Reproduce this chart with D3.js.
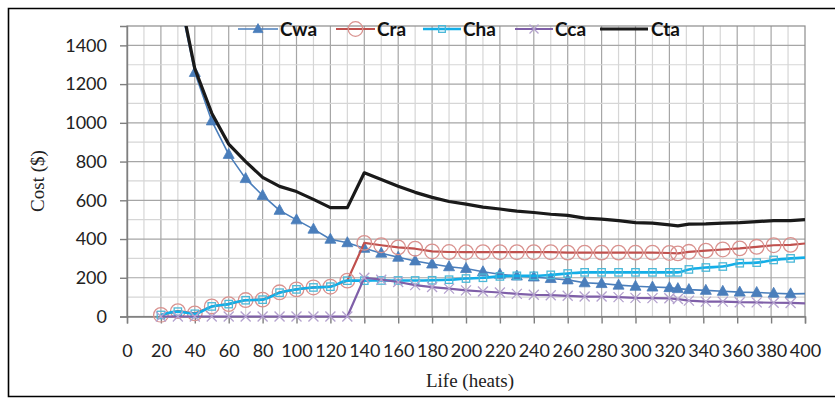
<!DOCTYPE html>
<html><head><meta charset="utf-8">
<script src="https://cdn.jsdelivr.net/npm/d3@7/dist/d3.min.js"></script>
<style>
html,body{margin:0;padding:0;background:#fff;}
svg{display:block;}
</style>
</head><body>
<svg id="chart" width="835" height="399"></svg>
<script>
// ---- data ----
const lifeHeats = [20,30,40,50,60,70,80,90,100,110,120,130,140,150,160,170,180,190,200,210,220,230,240,250,260,270,280,290,300,310,320,325,331.5,341.5,351.5,361.5,371.5,381.5,391.5,400];
const cwa = [2520,1680,1260,1010,837,712,625,548,499,451,399,381,352,327,306,287,271,257,248,231,218,209,204,196,189,174,170,162,156,152,149,144,139,135,130,126,124,120,117,118];
const cra = [8,28,16,52,64,85,87,125,140,150,154,185,380,368,357,350,336,333,332,332,332,332,332,332,330,330,330,330,330,330,328,326,334,340,346,352,360,368,370,377];
const cha = [8,25,14,52,64,84,87,123,140,150,154,185,185,186,186,186,187,190,196,200,207,210,210,215,222,228,228,228,228,228,228,228,243,253,258,275,278,292,300,304];
const cca = [0,0,0,0,0,0,0,0,0,0,0,0,200,190,178,162,152,144,135,129,124,117,112,110,107,103,103,100,96,95,94,90,82,77,77,74,73,71,70,68];
const cta = [2530,1710,1280,1050,890,800,718,672,645,605,562,562,742,707,672,641,615,594,580,565,555,544,537,528,522,508,503,495,485,482,473,468,477,478,482,485,490,495,495,500];
const seriesNames = ["Cwa","Cra","Cha","Cca","Cta"];
const xTicks = d3.range(0, 401, 20);
const yTicks = d3.range(0, 1401, 200);

const series = [
  {name:"Cwa", values:cwa, color:"#4A7EBB", width:1.6, marker:"triangle", mColor:"#4A7EBB"},
  {name:"Cra", values:cra, color:"#C0504D", width:2.2, marker:"circle",   mColor:"#D9928F"},
  {name:"Cha", values:cha, color:"#12AEE8", width:2.6, marker:"square",   mColor:"#4BB8D8"},
  {name:"Cca", values:cca, color:"#7F5FA8", width:2.2, marker:"x",        mColor:"#B4A2CE"},
  {name:"Cta", values:cta, color:"#1A1A1A", width:3.2, marker:null}
];

const svg = d3.select("#chart");
const L = 127, R = 805, T = 26, B = 316.5;
const x = d3.scaleLinear().domain([0, 400]).range([L, R]);
const y = d3.scaleLinear().domain([0, 1500]).range([B, T]);

// outer frame
svg.append("path").attr("d", "M835,8.5 H8.5 V396.5 H835")
  .attr("fill","none").attr("stroke","#000").attr("stroke-width",1.6);

// gridlines
const g = svg.append("g");
d3.range(10, 400, 10).forEach(v => {
  const major = v % 20 === 0;
  g.append("line").attr("x1", x(v)).attr("x2", x(v)).attr("y1", T).attr("y2", B)
    .attr("stroke", major ? "#a6a6a6" : "#d6d6d6").attr("stroke-width", 1.2);
});
d3.range(100, 1500, 100).forEach(v => {
  const major = v % 200 === 0;
  g.append("line").attr("x1", L).attr("x2", R).attr("y1", y(v)).attr("y2", y(v))
    .attr("stroke", major ? "#a6a6a6" : "#d6d6d6").attr("stroke-width", 1.2);
});
// plot border
svg.append("rect").attr("x", L).attr("y", T).attr("width", R-L).attr("height", B-T)
  .attr("fill","none").attr("stroke","#8c8c8c").attr("stroke-width",1.2);

// axes
const fontTick = "Lato, 'Open Sans', sans-serif";
const xAxis = svg.append("g").attr("transform", `translate(0,${B})`)
  .call(d3.axisBottom(x).tickValues(xTicks).tickSize(7).tickPadding(21).tickFormat(d3.format("d")));
const yAxis = svg.append("g").attr("transform", `translate(${L},0)`)
  .call(d3.axisLeft(y).tickValues(yTicks).tickSize(7).tickPadding(13).tickFormat(d3.format("d")));
[xAxis, yAxis].forEach(a => {
  a.select(".domain").attr("stroke","#7f7f7f").attr("stroke-width",1.4);
  a.selectAll(".tick line").attr("stroke","#7f7f7f").attr("stroke-width",1.4);
  a.selectAll(".tick text").attr("font-family", fontTick).attr("font-size", 18).attr("fill","#222");
});

// axis titles
svg.append("text").attr("transform","translate(44,181) rotate(-90)")
  .attr("text-anchor","middle").attr("font-family","'Liberation Serif', 'Times New Roman', serif")
  .attr("font-size",19).attr("fill","#222").text("Cost ($)");
svg.append("text").attr("x",470).attr("y",387)
  .attr("text-anchor","middle").attr("font-family","'Liberation Serif', 'Times New Roman', serif")
  .attr("font-size",19).attr("fill","#222").text("Life (heats)");

// clip
svg.append("clipPath").attr("id","plotclip").append("rect")
  .attr("x", L).attr("y", T).attr("width", R-L).attr("height", B-T+6);

function drawMarker(sel, type, color, cx, cy, scale) {
  const s = scale || 1;
  if (type === "triangle") {
    sel.append("path").attr("d", `M${cx},${cy-6*s} L${cx+5.5*s},${cy+4*s} L${cx-5.5*s},${cy+4*s} Z`)
      .attr("fill", color).attr("stroke", color).attr("stroke-width", 0.8);
  } else if (type === "circle") {
    sel.append("circle").attr("cx", cx).attr("cy", cy).attr("r", 7.3*s)
      .attr("fill","none").attr("stroke", color).attr("stroke-width", 1.3);
  } else if (type === "square") {
    sel.append("rect").attr("x", cx-3.7*s).attr("y", cy-3.7*s).attr("width", 7.4*s).attr("height", 7.4*s)
      .attr("fill","none").attr("stroke", color).attr("stroke-width", 1.3);
  } else if (type === "x") {
    const r = 5*s;
    sel.append("path").attr("d", `M${cx-r},${cy-r} L${cx+r},${cy+r} M${cx-r},${cy+r} L${cx+r},${cy-r}`)
      .attr("stroke", color).attr("stroke-width", 1.3);
  }
}

const plot = svg.append("g").attr("clip-path","url(#plotclip)");
series.forEach(s => {
  const pts = lifeHeats.map((h, i) => ({x: h, v: s.values[i]}));
  const line = d3.line().x(d => x(d.x)).y(d => y(d.v))
    .curve(s.name === "Cha" ? d3.curveMonotoneX : d3.curveLinear);
  plot.append("path").datum(pts).attr("d", line)
    .attr("fill","none").attr("stroke", s.color).attr("stroke-width", s.width)
    .attr("stroke-linejoin","round");
  if (s.marker) {
    const mg = plot.append("g");
    pts.filter(d => d.x < 400).forEach(d => drawMarker(mg, s.marker, s.mColor, x(d.x), y(d.v)));
  }
});

// legend
const legendItems = [
  {lx1:238, lx2:278, tx:280},
  {lx1:336, lx2:375, tx:377},
  {lx1:423, lx2:461, tx:463},
  {lx1:515, lx2:553, tx:555},
  {lx1:600, lx2:648, tx:651}
];
const lg = svg.append("g");
series.forEach((s, i) => {
  const it = legendItems[i];
  const ly = 29;
  lg.append("line").attr("x1", it.lx1).attr("x2", it.lx2).attr("y1", ly).attr("y2", ly)
    .attr("stroke", s.color).attr("stroke-width", s.width);
  if (s.marker) drawMarker(lg, s.marker, s.mColor, (it.lx1+it.lx2)/2, ly, s.marker === "circle" ? 1 : 0.9);
  lg.append("text").attr("x", it.tx).attr("y", ly).attr("dy","0.36em")
    .attr("font-family", fontTick).attr("font-weight","bold").attr("font-size",19)
    .attr("fill","#111").text(seriesNames[i]);
});
</script>
</body></html>
